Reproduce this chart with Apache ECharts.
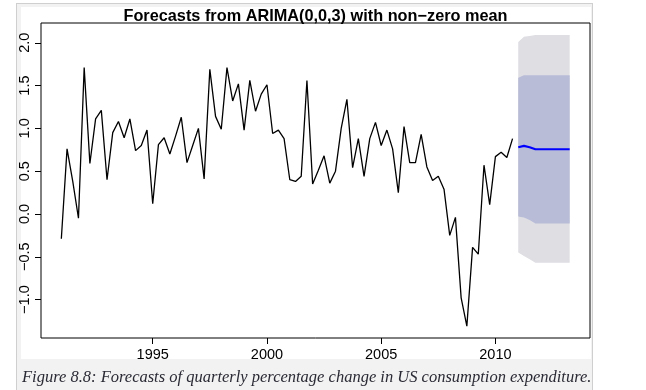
<!DOCTYPE html>
<html><head><meta charset="utf-8">
<script src="https://cdn.jsdelivr.net/npm/echarts@6/dist/echarts.min.js"></script>
<style>
html,body{margin:0;padding:0;background:#fff;overflow:hidden;}
#frame{position:absolute;left:16px;top:3px;width:577px;height:400px;background:#f2f2f2;border:1px solid #cfcfcf;box-sizing:border-box;}
#img{position:absolute;left:21px;top:7px;width:570px;height:352px;background:#fff;}
#c{position:absolute;left:0;top:0;width:646px;height:390px;}
</style>
</head><body>
<div id="frame"></div><div id="img"></div>
<div id="c"></div>
<script>
// ---- data ----
const startYear = 1991;          // first quarter shown: 1991 Q1
const quartersPerYear = 4;
const actual = [-0.29, 0.76, 0.38, -0.05, 1.71, 0.59, 1.11, 1.21, 0.40, 0.95,
  1.08, 0.89, 1.11, 0.74, 0.80, 0.98, 0.12, 0.81, 0.89, 0.70,
  0.91, 1.13, 0.60, 0.80, 1.00, 0.41, 1.69, 1.14, 0.99, 1.71,
  1.32, 1.52, 0.98, 1.56, 1.20, 1.40, 1.51, 0.94, 0.98, 0.88,
  0.40, 0.38, 0.44, 1.56, 0.35, 0.51, 0.68, 0.36, 0.50, 1.00,
  1.34, 0.54, 0.88, 0.44, 0.88, 1.07, 0.80, 0.98, 0.76, 0.25,
  1.02, 0.60, 0.60, 0.93, 0.55, 0.39, 0.44, 0.29, -0.25, -0.04,
  -0.98, -1.31, -0.39, -0.47, 0.57, 0.11, 0.67, 0.72, 0.66, 0.88];
const fcMean = [0.78, 0.795, 0.78, 0.756, 0.756, 0.756, 0.756, 0.756, 0.756, 0.756];
const fcLo80 = [-0.03, -0.04, -0.07, -0.11, -0.11, -0.11, -0.11, -0.11, -0.11, -0.11];
const fcHi80 = [1.59, 1.62, 1.62, 1.62, 1.62, 1.62, 1.62, 1.62, 1.62, 1.62];
const fcLo95 = [-0.45, -0.49, -0.53, -0.57, -0.57, -0.57, -0.57, -0.57, -0.57, -0.57];
const fcHi95 = [2.01, 2.07, 2.08, 2.09, 2.09, 2.09, 2.09, 2.09, 2.09, 2.09];
const xTicks = [1995, 2000, 2005, 2010];
const yTicks = [-1.0, -0.5, 0.0, 0.5, 1.0, 1.5, 2.0];
const titleText = 'Forecasts from ARIMA(0,0,3) with non\u2212zero mean';
const captionText = 'Figure 8.8: Forecasts of quarterly percentage change in US consumption expenditure.';

// ---- build ----
const actTime = actual.map((v, i) => startYear + i / quartersPerYear);
const fcStart = startYear + actual.length / quartersPerYear;
const fcTime = fcMean.map((v, i) => fcStart + i / quartersPerYear);

function band(lo, hi, color) {
  return {
    type: 'custom', silent: true, z: 1,
    data: fcTime.map((t, i) => [t, lo[i], hi[i]]),
    encode: { x: 0, y: [1, 2] },
    renderItem: function (params, api) {
      if (params.dataIndex !== 0) return;
      const pts = [];
      for (let i = 0; i < fcTime.length; i++) pts.push(api.coord([fcTime[i], hi[i]]));
      for (let i = fcTime.length - 1; i >= 0; i--) pts.push(api.coord([fcTime[i], lo[i]]));
      return { type: 'polygon', shape: { points: pts }, style: { fill: color } };
    }
  };
}

const fmtY = v => (v < 0 ? '\u2212' : '') + Math.abs(v).toFixed(1);

const chart = echarts.init(document.getElementById('c'), null, { renderer: 'canvas' });
chart.setOption({
  backgroundColor: 'transparent',
  animation: false,
  title: {
    text: titleText, left: 315.5, textAlign: 'center', top: 9, padding: 0,
    textStyle: { fontFamily: 'Liberation Sans', fontWeight: 'bold', fontSize: 16.3, color: '#000' }
  },
  grid: { left: 41, top: 23, width: 549, height: 315, show: true, borderColor: '#000', borderWidth: 1, backgroundColor: 'transparent' },
  xAxis: {
    type: 'value', min: 1990.11, max: 2014.14,
    splitLine: { show: false }, axisLine: { show: false, onZero: false },
    axisTick: { show: true, customValues: xTicks, length: 6, lineStyle: { color: '#000' } },
    axisLabel: { customValues: xTicks, margin: 9, fontFamily: 'Liberation Sans', fontSize: 14.5, color: '#000', formatter: v => String(v) }
  },
  yAxis: {
    type: 'value', min: -1.449, max: 2.231,
    splitLine: { show: false }, axisLine: { show: false, onZero: false },
    axisTick: { show: true, customValues: yTicks, length: 6, lineStyle: { color: '#000' } },
    axisLabel: { customValues: yTicks, rotate: 90, margin: 9, fontFamily: 'Liberation Sans', fontSize: 14.5, color: '#000', formatter: fmtY }
  },
  series: [
    band(fcLo95, fcHi95, '#dedee3'),
    band(fcLo80, fcHi80, '#b8bcd7'),
    {
      type: 'line', data: actTime.map((t, i) => [t, actual[i]]), showSymbol: false, z: 3,
      lineStyle: { color: '#000', width: 1.3 }, silent: true
    },
    {
      type: 'line', data: fcTime.map((t, i) => [t, fcMean[i]]), showSymbol: false, z: 4,
      lineStyle: { color: '#0000ff', width: 2.2 }, silent: true
    }
  ],
  graphic: [{
    type: 'text', left: 22, top: 369,
    style: { text: captionText, font: 'italic 16.5px "Liberation Serif"', fill: '#2a2a35' }
  }]
});
</script>
</body></html>
